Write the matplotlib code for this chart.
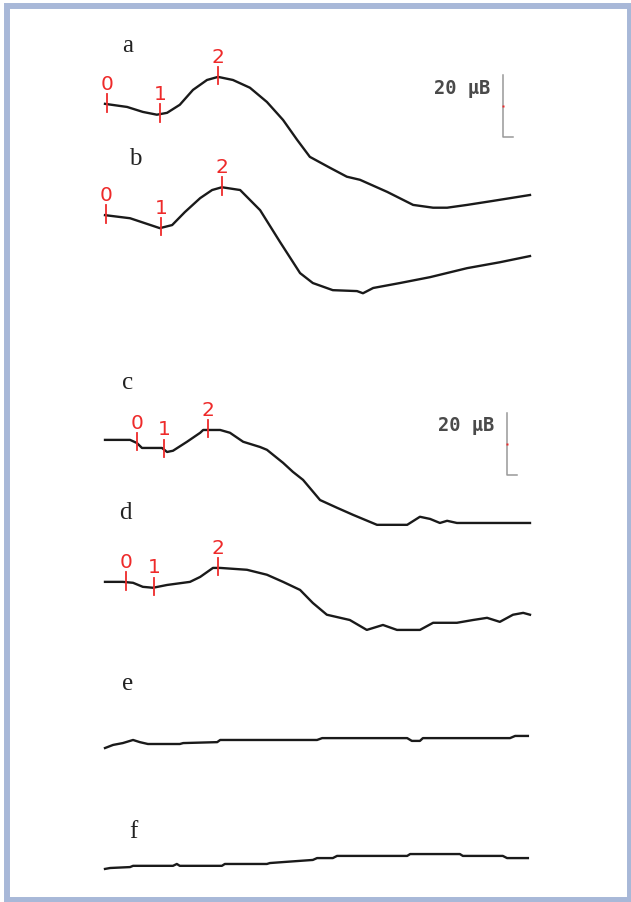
import matplotlib.pyplot as plt
import numpy as np
from matplotlib.patches import Rectangle

# time axis in ms, amplitude in uV relative to each trace's first sample
T_A = [0, 5.2, 8.9, 12.2, 14.6, 17.6, 20.7, 24.0, 26.6, 30.1, 34.1, 38.1, 41.9, 45.2,
       48.2, 52.9, 56.9, 60.0, 66.4, 72.5, 77.2, 80.5, 85.2, 91.3, 100]
V_A = [0, -1.0, -2.6, -3.5, -2.9, -0.3, 4.5, 7.7, 8.7, 7.7, 5.2, 0.6, -5.2, -11.6,
       -17.1, -20.6, -23.5, -24.5, -28.4, -32.6, -33.5, -33.5, -32.6, -31.3, -29.4]

T_B = [0, 5.9, 9.4, 12.9, 15.8, 18.8, 22.4, 25.2, 27.5, 31.8, 36.5, 41.2, 45.9, 48.9,
       53.6, 59.3, 60.7, 63.1, 69.4, 76.5, 85.2, 92.9, 100]
V_B = [0, -1.0, -2.6, -4.2, -3.2, 1.0, 5.5, 8.1, 9.0, 8.1, 1.6, -8.7, -18.7, -21.9,
       -24.2, -24.5, -25.2, -23.5, -21.9, -20.0, -17.1, -15.2, -13.2]

T_C = [0, 5.9, 7.5, 8.7, 13.4, 14.6, 16.0, 19.3, 22.4, 23.1, 27.1, 29.4, 32.5, 36.5,
       38.1, 41.9, 44.2, 46.6, 50.6, 54.6, 58.4, 64.0, 71.1, 74.1, 76.5, 78.8, 80.5,
       82.8, 86.6, 96.0, 100]
V_C = [0, 0, -1.0, -2.6, -2.6, -3.9, -3.5, -0.6, 2.3, 3.2, 3.2, 2.3, -0.6, -2.3,
       -3.2, -7.4, -10.3, -12.9, -19.4, -21.9, -24.2, -27.4, -27.4, -24.8, -25.5, -26.8,
       -26.1, -26.8, -26.8, -26.8, -26.8]

T_D = [0, 4.2, 6.6, 8.9, 11.3, 14.6, 20.0, 22.4, 25.4, 27.1, 33.4, 38.1, 41.9, 45.9,
       48.9, 52.2, 57.6, 61.6, 65.4, 68.7, 74.1, 77.2, 82.8, 86.6, 89.9, 92.9, 96.0, 98.4, 100]
V_D = [0, 0, -0.3, -1.6, -1.9, -1.0, 0, 1.6, 4.5, 4.5, 3.9, 2.3, 0, -2.6,
       -6.8, -10.6, -12.3, -15.5, -13.9, -15.5, -15.5, -13.2, -13.2, -12.3, -11.6, -12.9,
       -10.6, -10.0, -10.6]

T_E = [0, 1.9, 4.2, 6.6, 8.2, 10.1, 17.6, 18.4, 26.4, 27.1, 49.9, 51.1, 71.1, 72.2,
       74.1, 74.8, 95.3, 96.5, 99.5]
V_E = [0, 1.0, 1.6, 2.6, 1.9, 1.3, 1.3, 1.6, 1.9, 2.6, 2.6, 3.2, 3.2, 2.3,
       2.3, 3.2, 3.2, 3.9, 3.9]

T_F = [0, 1.2, 5.9, 6.6, 16.0, 16.9, 17.6, 27.5, 28.2, 38.1, 38.8, 42.8, 48.9, 49.9,
       53.6, 54.6, 71.1, 71.8, 83.5, 84.2, 93.6, 94.6, 99.5]
V_F = [0, 0.3, 0.6, 1.0, 1.0, 1.6, 1.0, 1.0, 1.6, 1.6, 1.9, 2.3, 2.9, 3.5,
       3.5, 4.2, 4.2, 4.8, 4.8, 4.2, 4.2, 3.5, 3.5]

LABELS = ["a", "b", "c", "d", "e", "f"]
# latencies (ms) of peaks 0, 1, 2; traces e and f have none
PEAKS = {
    "a": [0.5, 12.9, 26.6],
    "b": [0.2, 13.2, 27.5],
    "c": [7.5, 13.9, 24.2],
    "d": [4.9, 11.5, 26.6],
}
PEAK_NAMES = ["0", "1", "2"]
SCALE_UV = 20
SCALE_TEXT = "20 µВ"

# layout: vertical offsets of traces (uV below top of figure)
OFFSETS = [-33.5, -69.4, -141.9, -187.7, -241.3, -280.3]
LETTER_POS = [(5.4, -14.8), (7.1, -51.3), (5.4, -123.5), (4.9, -165.5), (5.4, -220.6), (6.8, -268.4)]
SCALE_BARS = [(93.6, -24.2), (94.6, -133.2)]

PX_PER_MS = 4.25
PX_PER_UV = 3.1
W, H = 631, 902
RED = "#ee2a2a"

fig = plt.figure(figsize=(W / 100, H / 100), dpi=100)
ax = fig.add_axes([0, 0, 1, 1])
ax.set_xlim(-105 / PX_PER_MS, (W - 105) / PX_PER_MS)
ax.set_ylim(-H / PX_PER_UV, 0)
ax.axis("off")

traces = [(T_A, V_A), (T_B, V_B), (T_C, V_C), (T_D, V_D), (T_E, V_E), (T_F, V_F)]
for label, (t, v), off, (lx, ly) in zip(LABELS, traces, OFFSETS, LETTER_POS):
    t = np.asarray(t)
    v = np.asarray(v) + off
    ax.plot(t, v, color="#1a1a1a", lw=1.7, solid_joinstyle="round")
    ax.text(lx, ly, label, fontsize=18, family="Liberation Serif",
            ha="center", va="center", color="#222222")

    for name, lat in zip(PEAK_NAMES, PEAKS.get(label, [])):
        y = np.interp(lat, t, v)
        ax.plot([lat, lat], [y - 2.4, y + 3.2], color=RED, lw=1.3)
        ax.text(lat, y + 4.6, name, color=RED, fontsize=14.5,
                ha="center", va="baseline")

for x, top in SCALE_BARS:
    bottom = top - SCALE_UV
    ax.plot([x, x, x + 2.4], [top, bottom, bottom], color="#999999", lw=1.1)
    ax.plot([x], [top - SCALE_UV / 2], marker="s", ms=1.5, color=RED, mec="none")
    ax.text(x - 3.0, top - 4.2, SCALE_TEXT, family="DejaVu Sans Mono", fontweight="bold",
            fontsize=13.5, color="#4a4a4a", ha="right", va="center")

fig.add_artist(Rectangle((7 / W, 2.5 / H), 623 / W, 894 / H, transform=fig.transFigure,
                         fill=False, edgecolor="#a8b8d8", lw=4.3))

fig.savefig("out.png", dpi=100)
